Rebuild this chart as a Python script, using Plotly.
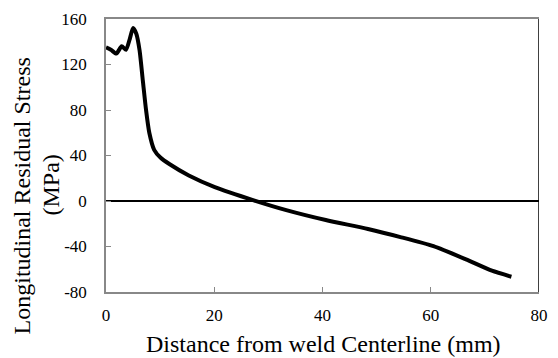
import plotly.graph_objects as go

distance_mm = [0, 0.9, 1.9, 2.9, 3.7, 4.4, 5.0, 5.6, 6.2, 6.8, 7.4, 8.0, 8.9, 10.1, 11.7,
               15.3, 20.1, 27.3, 33.3, 40.6, 48.4, 54.4, 60.5, 66.5, 71.3, 74.9]
stress_mpa = [135, 133, 129.6, 136, 133, 142.6, 152, 147, 132.5, 106, 80, 60, 45, 38, 32.5,
              22.4, 12.2, 0.6, -8, -16.7, -24.6, -31.7, -39.7, -51.3, -61.3, -66.6]

x_ticks = [0, 20, 40, 60, 80]
x_ticktext = ["0", "20", "40", "60", "80"]
y_ticks = [-80, -40, 0, 40, 80, 120, 160]
y_ticktext = ["-80", "-40", "0", "40", "80", "120", "160"]

x_title = "Distance from weld Centerline (mm)"
y_title_line1 = "Longitudinal Residual Stress"
y_title_line2 = "(MPa)"

FONT = "Liberation Serif"

fig = go.Figure()
fig.add_trace(go.Scatter(x=distance_mm, y=stress_mpa, mode="lines",
                         line=dict(color="black", width=4, shape="spline", smoothing=0.6),
                         showlegend=False))

fig.add_shape(type="line", xref="x", yref="paper", x0=80, x1=80, y0=0, y1=1,
              line=dict(color="black", width=1.5))

fig.add_annotation(text=x_title, xref="paper", yref="paper", x=0.502, y=-0.19,
                   xanchor="center", yanchor="middle", showarrow=False,
                   font=dict(family=FONT, size=24, color="black"))
fig.add_annotation(text=y_title_line1, xref="paper", yref="paper", x=0, y=0.35,
                   xshift=-84, xanchor="center", yanchor="middle", showarrow=False,
                   textangle=-90, font=dict(family=FONT, size=24, color="black"))
fig.add_annotation(text=y_title_line2, xref="paper", yref="paper", x=0, y=0.39,
                   xshift=-55, xanchor="center", yanchor="middle", showarrow=False,
                   textangle=-90, font=dict(family=FONT, size=24, color="black"))

fig.update_layout(
    width=558, height=358,
    margin=dict(l=106, r=10, t=16, b=66),
    plot_bgcolor="white", paper_bgcolor="white",
    font=dict(family=FONT, color="black", size=17),
)
fig.update_xaxes(
    range=[0, 80], tickvals=x_ticks, ticktext=x_ticktext,
    ticks="inside", ticklen=5, tickcolor="#888", ticklabelstandoff=7,
    showline=True, linecolor="#888", linewidth=1.5, mirror=True,
    showgrid=False, zeroline=False,
    tickfont=dict(family=FONT, size=17, color="black"),
)
fig.update_yaxes(
    range=[-80, 160], tickvals=y_ticks, ticktext=y_ticktext,
    ticks="inside", ticklen=5, tickcolor="#888", ticklabelstandoff=14,
    showline=True, linecolor="#888", linewidth=1.5,
    showgrid=False, zeroline=True, zerolinecolor="black", zerolinewidth=2,
    tickfont=dict(family=FONT, size=17, color="black"),
)

fig.write_html("out.html")
